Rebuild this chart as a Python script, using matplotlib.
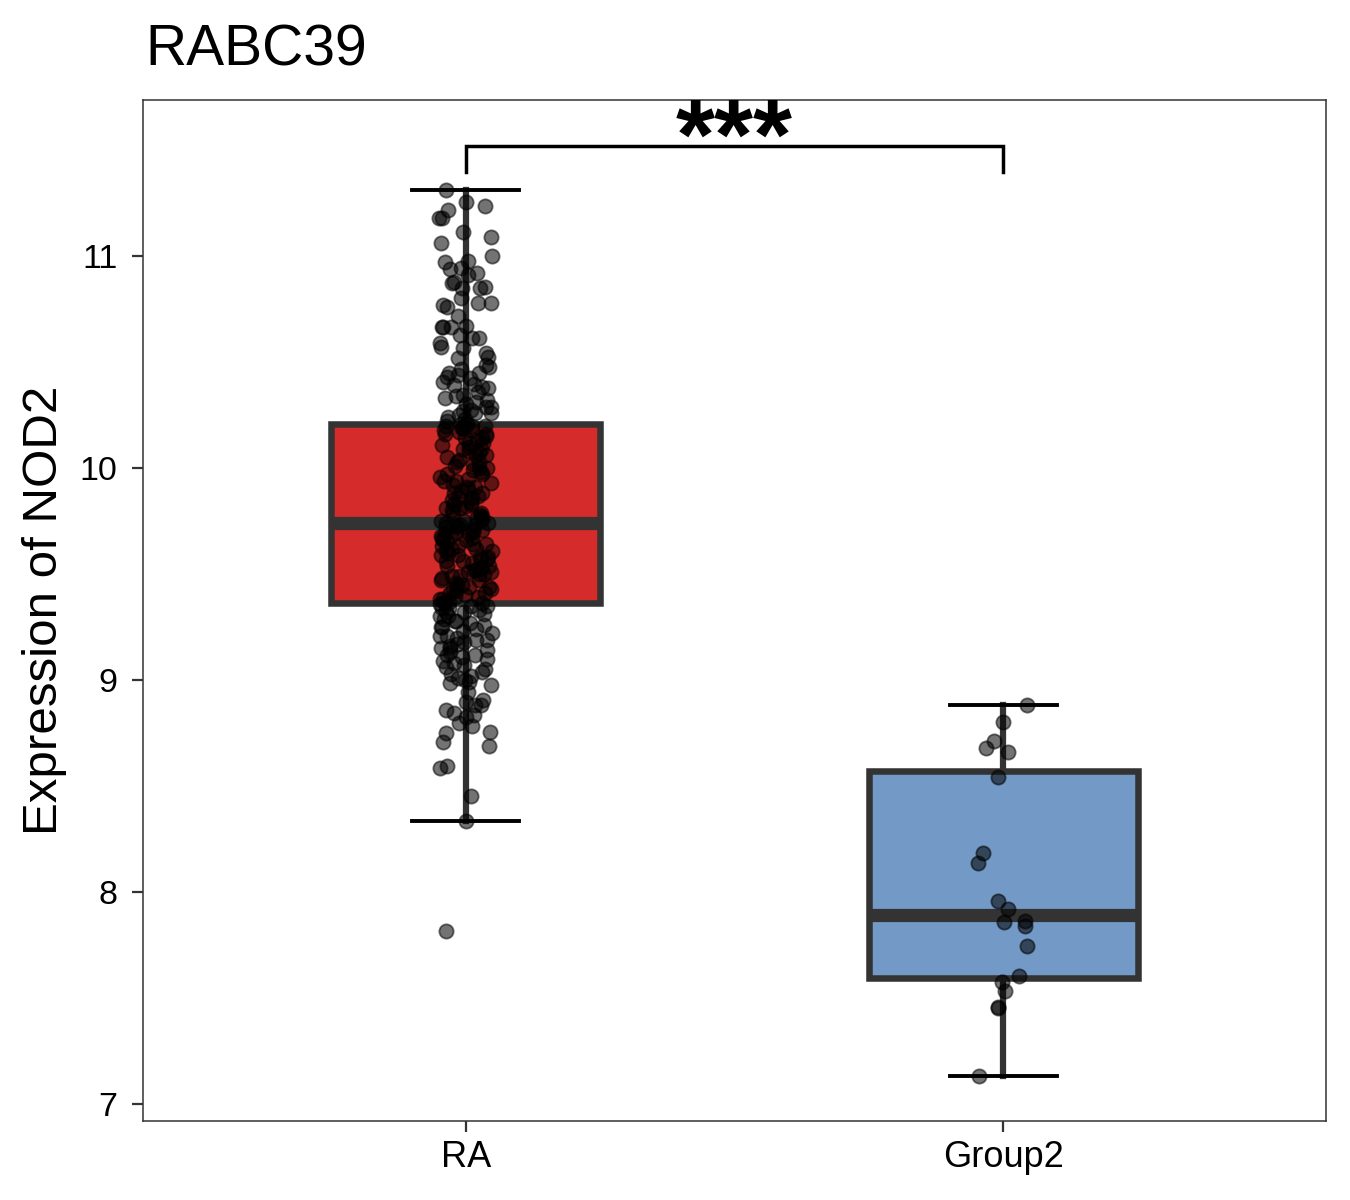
import numpy as np
import matplotlib
matplotlib.use('Agg')
import matplotlib.pyplot as plt

plt.rcParams['font.family'] = ['Liberation Sans', 'DejaVu Sans']

groups = ['RA', 'Group2']
box_colors = ['#D62B2B', '#7399C6']
title = 'RABC39'
y_label = 'Expression of NOD2'
signif_label = '***'
y_ticks = [7, 8, 9, 10, 11]

# expression values read off the jittered points (RA: dense middle estimated)
ra_values = [
    # below Q1
    7.817, 8.337, 8.453, 8.583, 8.594, 8.69, 8.709, 8.752, 8.756, 8.783,
    8.796, 8.827, 8.835, 8.843, 8.858, 8.882, 8.882, 8.898, 8.906, 8.945,
    8.976, 8.984, 8.992, 9.00, 9.01, 9.02, 9.03, 9.04, 9.05, 9.06,
    9.07, 9.08, 9.09, 9.10, 9.11, 9.12, 9.12, 9.13, 9.14, 9.15,
    9.15, 9.16, 9.17, 9.18, 9.19, 9.19, 9.20, 9.21, 9.21, 9.22,
    9.23, 9.24, 9.25, 9.25, 9.26, 9.27, 9.28, 9.28, 9.29, 9.30,
    9.30, 9.31, 9.32, 9.32, 9.33, 9.34, 9.34, 9.35, 9.35, 9.36,
    # Q1 .. median
    9.363,
    9.37, 9.37, 9.38, 9.39, 9.39, 9.40, 9.41, 9.41, 9.42, 9.43,
    9.43, 9.44, 9.45, 9.45, 9.46, 9.47, 9.47, 9.48, 9.49, 9.49,
    9.50, 9.50, 9.51, 9.52, 9.52, 9.53, 9.54, 9.54, 9.55, 9.56,
    9.56, 9.57, 9.57, 9.58, 9.59, 9.59, 9.60, 9.61, 9.61, 9.62,
    9.63, 9.63, 9.64, 9.64, 9.65, 9.66, 9.66, 9.67, 9.68, 9.68,
    9.69, 9.69, 9.70, 9.70, 9.71, 9.72, 9.72, 9.73, 9.73, 9.74,
    9.365, 9.38, 9.44, 9.51, 9.58, 9.62, 9.67, 9.71, 9.73,
    # median .. Q3
    9.74,
    9.75, 9.75, 9.76, 9.77, 9.77, 9.78, 9.79, 9.79, 9.80, 9.81,
    9.81, 9.82, 9.83, 9.83, 9.84, 9.85, 9.86, 9.86, 9.87, 9.88,
    9.88, 9.89, 9.90, 9.91, 9.91, 9.92, 9.93, 9.94, 9.94, 9.95,
    9.96, 9.97, 9.97, 9.98, 9.99, 10.00, 10.00, 10.01, 10.02, 10.03,
    10.03, 10.04, 10.05, 10.06, 10.06, 10.07, 10.08, 10.09, 10.09, 10.10,
    10.11, 10.12, 10.12, 10.13, 10.14, 10.14, 10.15, 10.16, 10.16, 10.17,
    10.18, 10.18, 10.19, 10.19, 10.20, 10.20, 10.20, 10.21, 10.21,
    # above Q3
    10.21,
    11.31, 11.256, 11.237, 11.217, 11.181, 11.178, 11.115, 11.088, 11.063, 11.0,
    10.976, 10.973, 10.942, 10.937, 10.921, 10.91, 10.879, 10.874, 10.855, 10.847,
    10.847, 10.803, 10.777, 10.777, 10.769, 10.758, 10.718, 10.671, 10.667, 10.664,
    10.664, 10.627, 10.612, 10.612, 10.588, 10.572, 10.565, 10.541, 10.525, 10.517,
    10.486, 10.478, 10.467, 10.447, 10.439, 10.431, 10.423, 10.408, 10.395, 10.383,
    10.376, 10.344, 10.329, 10.321, 10.289, 10.289, 10.274, 10.258, 10.25, 10.45,
    10.39, 10.36, 10.34, 10.31, 10.30, 10.27, 10.26, 10.24, 10.23, 10.22,
]

group2_values = [
    8.882, 8.80, 8.712, 8.678, 8.659, 8.544, 8.185, 8.139, 7.959, 7.918,
    7.86, 7.863, 7.84, 7.747, 7.604, 7.574, 7.534, 7.459, 7.451, 7.132,
]

fig = plt.figure(figsize=(13.5, 12), dpi=100)
ax = fig.add_axes([143 / 1350, 1 - 1121 / 1200, 1183 / 1350, 1021 / 1200])

positions = np.arange(1, len(groups) + 1)
data = [ra_values, group2_values]

bp = ax.boxplot(
    data, positions=positions, widths=0.5, patch_artist=True,
    showfliers=False, capwidths=0.2, whis=1.5,
    boxprops=dict(edgecolor='#333333', linewidth=4.7, joinstyle='miter'),
    whiskerprops=dict(color='#333333', linewidth=4.5),
    capprops=dict(color='black', linewidth=2.8),
    medianprops=dict(color='#333333', linewidth=9.5, solid_capstyle='butt'),
)
for patch, col in zip(bp['boxes'], box_colors):
    patch.set_facecolor(col)

# jitter is only for display, values stay as read
rng = np.random.default_rng(11)
for pos, vals in zip(positions, data):
    xj = pos + rng.uniform(-0.05, 0.05, len(vals))
    ax.scatter(xj, vals, s=105, c='black', alpha=0.55,
               edgecolors='black', linewidths=1.3, zorder=5)

# significance bracket
ax.plot([1, 1, 2, 2], [11.395, 11.519, 11.519, 11.395], color='black',
        lw=2.5, solid_joinstyle='miter', zorder=6)
ax.text(1.5, 11.41, signif_label, ha='center', va='baseline', fontsize=72,
        fontweight='bold')

ax.set_xlim(0.4, 2.6)
ax.set_ylim(6.92, 11.736)
ax.set_xticks(positions)
ax.set_xticklabels(groups, fontsize=26)
ax.set_yticks(y_ticks)
ax.set_yticklabels([str(t) for t in y_ticks], fontsize=24.5)

for sp in ax.spines.values():
    sp.set_color('#333333')
    sp.set_linewidth(1.1)
ax.tick_params(axis='both', length=8, width=1.6, color='#333333', labelcolor='black')
ax.tick_params(axis='y', pad=10.5)
ax.tick_params(axis='x', pad=6)

fig.text(145 / 1350, 1 - 65 / 1200, title, fontsize=41, ha='left', va='baseline')
fig.text(45 / 1350, 1 - 610.5 / 1200, y_label, fontsize=35.5, rotation=90,
         ha='center', va='center')

fig.savefig('out.png', dpi=100)
